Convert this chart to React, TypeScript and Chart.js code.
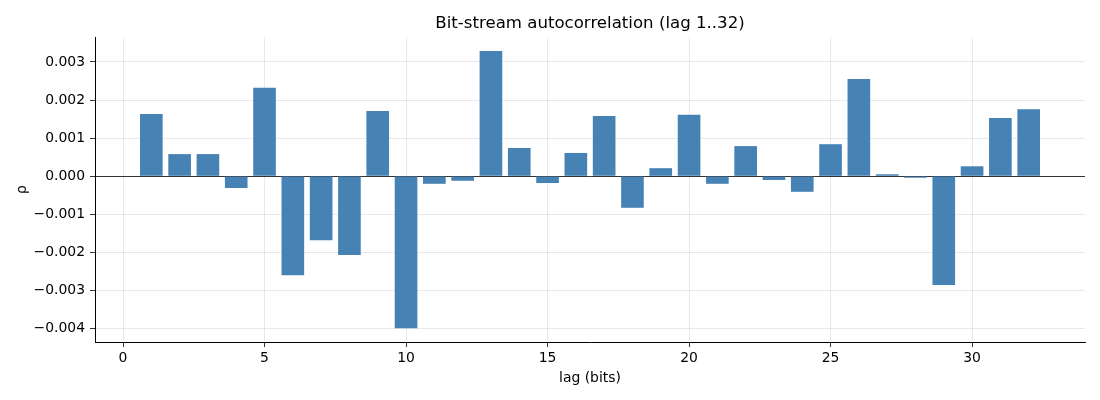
import React, { useEffect, useRef } from 'react';
import { Chart, registerables } from 'chart.js';

Chart.register(...registerables);

// lag values 1..32 and the autocorrelation
const lags = [
  1, 2, 3, 4, 5, 6, 7, 8, 9, 10, 11, 12, 13, 14, 15, 16,
  17, 18, 19, 20, 21, 22, 23, 24, 25, 26, 27, 28, 29, 30, 31, 32,
];
const rho = [
  0.00163, 0.00058, 0.00058, -0.00031, 0.00232, -0.0026, -0.00168, -0.00207,
  0.00171, -0.00399, -0.0002, -0.00012, 0.00329, 0.00074, -0.00018, 0.00061,
  0.00158, -0.00083, 0.00021, 0.00161, -0.0002, 0.00079, -0.0001, -0.00041,
  0.00084, 0.00255, 0.00005, -0.00004, -0.00286, 0.00026, 0.00153, 0.00176,
];
const xTicks = [0, 5, 10, 15, 20, 25, 30];
const yTicks = [-0.004, -0.003, -0.002, -0.001, 0, 0.001, 0.002, 0.003];

const FONT = 'DejaVu Sans';

const App: React.FC = () => {
  const chartRef = useRef<HTMLCanvasElement | null>(null);
  const chartInstance = useRef<Chart | null>(null);

  useEffect(() => {
    document.body.style.margin = '0';
    if (!chartRef.current) return;
    if (chartInstance.current) chartInstance.current.destroy();

    const ctx = chartRef.current.getContext('2d');
    if (!ctx) return;

    chartInstance.current = new Chart(ctx, {
      type: 'bar',
      data: {
        datasets: [
          {
            data: lags.map((x, i) => ({ x, y: rho[i] })),
            backgroundColor: '#4682b4',
            borderWidth: 0,
            barPercentage: 0.8,
            categoryPercentage: 1.0,
          },
        ],
      },
      options: {
        animation: false,
        responsive: true,
        maintainAspectRatio: false,
        layout: { padding: { left: 0, right: 15, top: 0, bottom: 0 } },
        plugins: {
          legend: { display: false },
          tooltip: { enabled: false },
          title: {
            display: true,
            text: 'Bit-stream autocorrelation (lag 1..32)',
            color: '#000',
            fullSize: false,
            font: { family: FONT, size: 16.6, weight: 'normal' },
            padding: { top: 13.5, bottom: 3.6 },
          },
        },
        scales: {
          x: {
            type: 'linear',
            min: -0.99,
            max: 33.99,
            offset: false,
            z: 1,
            afterBuildTicks: (scale) => {
              scale.ticks = xTicks.map((value) => ({ value }));
            },
            afterFit: (scale) => {
              scale.height = 58;
            },
            border: { display: true, color: '#000', width: 1 },
            grid: {
              offset: false,
              color: 'rgba(0,0,0,0.11)',
              lineWidth: 0.8,
              tickColor: '#000',
              tickLength: 5,
            },
            ticks: {
              color: '#000',
              font: { family: FONT, size: 13.9 },
              padding: 3.5,
              maxRotation: 0,
            },
            title: {
              display: true,
              text: 'lag (bits)',
              color: '#000',
              font: { family: FONT, size: 13.9 },
              padding: { top: 0, bottom: 13 },
            },
          },
          y: {
            type: 'linear',
            min: -0.004354,
            max: 0.003654,
            z: 1,
            afterBuildTicks: (scale) => {
              scale.ticks = yTicks.map((value) => ({ value }));
            },
            afterFit: (scale) => {
              scale.width = 95;
            },
            border: { display: true, color: '#000', width: 1 },
            grid: {
              color: (c) => (c.tick && c.tick.value === 0 ? '#000' : 'rgba(0,0,0,0.11)'),
              lineWidth: 0.8,
              tickColor: '#000',
              tickLength: 5,
            },
            ticks: {
              color: '#000',
              font: { family: FONT, size: 13.9 },
              padding: 5,
              callback: (v) => {
                const n = Number(v);
                const s = Math.abs(n).toFixed(3);
                return n < -1e-9 ? '\u2212' + s : s;
              },
            },
            title: {
              display: true,
              text: 'ρ',
              color: '#000',
              font: { family: FONT, size: 13.9 },
              padding: { top: 14, bottom: 0 },
            },
          },
        },
      },
    });

    return () => {
      if (chartInstance.current) {
        chartInstance.current.destroy();
        chartInstance.current = null;
      }
    };
  }, []);

  return (
    <div style={{ width: 1100, height: 400, position: 'relative' }}>
      <canvas ref={chartRef} />
    </div>
  );
};

export default App;
